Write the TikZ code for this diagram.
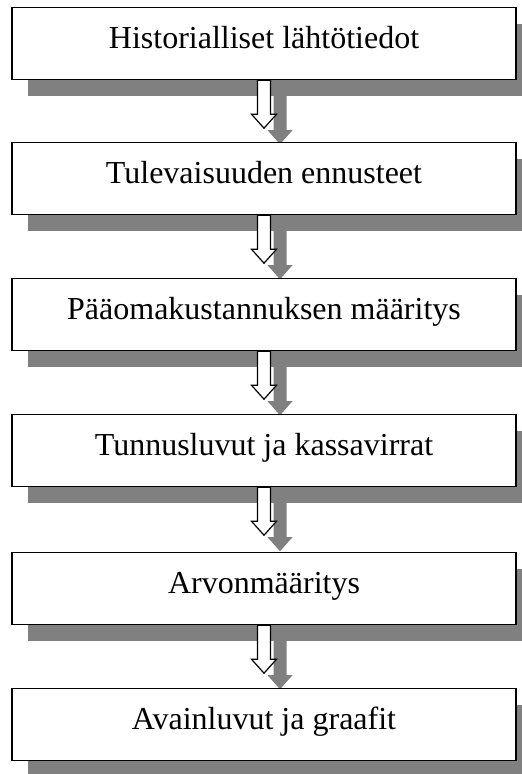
\documentclass[tikz,border=0pt]{standalone}
\usepackage{fontspec}
\setmainfont{Liberation Serif}
\usetikzlibrary{shadows,backgrounds}
\tikzset{
  stepbox/.style={draw=black, line width=1.2pt, fill=white, inner sep=0pt,
    minimum width=504pt, text height=41pt, text depth=31pt,
    font=\fontsize{32}{38}\selectfont,
    drop shadow={shadow xshift=16pt, shadow yshift=-16pt, fill=shadowgray, opacity=1, draw=none}},
  blkarrow/.style={draw=black, line width=1.2pt, fill=white},
  blkshadow/.style={fill=shadowgray, draw=none}
}
\definecolor{shadowgray}{RGB}{128,128,128}
\newcommand\flowarrow[1]{%
  \begin{scope}[on background layer]
    \fill[blkshadow] ([shift={(16pt,-16pt)}]#1.south) ++(-6.5,0) -- ++(0,-34) -- ++(-6,0) -- ++(12.5,-14) -- ++(12.5,14) -- ++(-6,0) -- ++(0,34) -- cycle;
  \end{scope}
  \draw[blkarrow] (#1.south) ++(-6.5,0) -- ++(0,-34) -- ++(-6,0) -- ++(12.5,-14) -- ++(12.5,14) -- ++(-6,0) -- ++(0,34) -- cycle;
}
\begin{document}
\begin{tikzpicture}[x=1pt,y=1pt]
\useasboundingbox (0,0) rectangle (522,-774);
\clip (0,0) rectangle (522,-774);
\node[stepbox, anchor=north] (b1) at (264,-7) {Historialliset lähtötiedot};
\node[stepbox, anchor=north] (b2) at (264,-142) {Tulevaisuuden ennusteet};
\node[stepbox, anchor=north] (b3) at (264,-278) {Pääomakustannuksen määritys};
\node[stepbox, anchor=north] (b4) at (264,-414) {Tunnusluvut ja kassavirrat};
\node[stepbox, anchor=north] (b5) at (264,-552) {Arvonmääritys};
\node[stepbox, anchor=north] (b6) at (264,-688) {Avainluvut ja graafit};
\flowarrow{b1}
\flowarrow{b2}
\flowarrow{b3}
\flowarrow{b4}
\flowarrow{b5}
\end{tikzpicture}
\end{document}
